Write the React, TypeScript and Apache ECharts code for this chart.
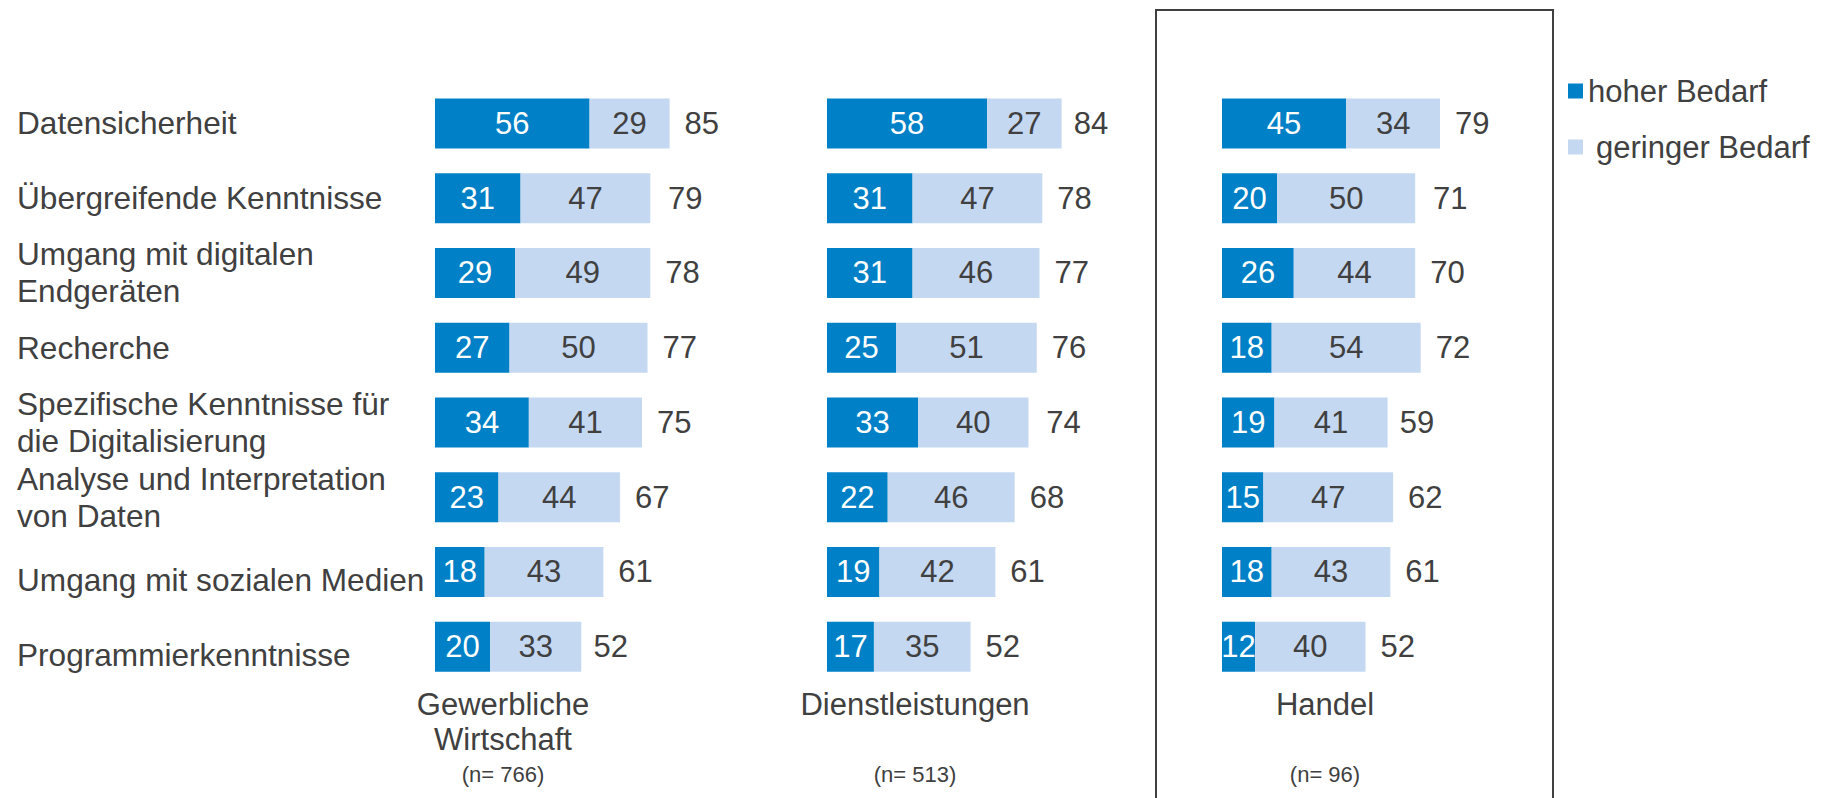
import React, { useEffect, useRef } from "react";
import * as echarts from "echarts";

const categories = [
  "Datensicherheit",
  "Übergreifende Kenntnisse",
  "Umgang mit digitalen\nEndgeräten",
  "Recherche",
  "Spezifische Kenntnisse für\ndie Digitalisierung",
  "Analyse und Interpretation\nvon Daten",
  "Umgang mit sozialen Medien",
  "Programmierkenntnisse",
];

const panelTitles = ["Gewerbliche\nWirtschaft", "Dienstleistungen", "Handel"];
const panelN = ["(n= 766)", "(n= 513)", "(n= 96)"];

const hoherGewerbe = [56, 31, 29, 27, 34, 23, 18, 20];
const geringerGewerbe = [29, 47, 49, 50, 41, 44, 43, 33];
const gesamtGewerbe = [85, 79, 78, 77, 75, 67, 61, 52];

const hoherDienst = [58, 31, 31, 25, 33, 22, 19, 17];
const geringerDienst = [27, 47, 46, 51, 40, 46, 42, 35];
const gesamtDienst = [84, 78, 77, 76, 74, 68, 61, 52];

const hoherHandel = [45, 20, 26, 18, 19, 15, 18, 12];
const geringerHandel = [34, 50, 44, 54, 41, 47, 43, 40];
const gesamtHandel = [79, 71, 70, 72, 59, 62, 61, 52];

const hoher = [hoherGewerbe, hoherDienst, hoherHandel];
const geringer = [geringerGewerbe, geringerDienst, geringerHandel];
const gesamt = [gesamtGewerbe, gesamtDienst, gesamtHandel];

const DARK = "#0080C6";
const LIGHT = "#C5D8F1";
const TEXT = "#404040";
const FONT = "'Liberation Sans', Arial, sans-serif";

export default function App() {
  const ref = useRef<HTMLDivElement>(null);

  useEffect(() => {
    if (!ref.current) return;
    const chart = echarts.init(ref.current, undefined, { renderer: "svg" });

    const gridLefts = [435, 827, 1222];
    const titleX = [503, 915, 1325];
    // downward offset of the two lowest row labels in the original layout
    const labelShift = [0, 0, 0, 0, 0, 0, 8, 8];

    const base = { fontSize: 31.6, lineHeight: 37, color: TEXT, fontFamily: FONT };
    const rich: any = { b: { ...base } };
    labelShift.forEach((s, k) => {
      rich["p" + k] = { ...base, padding: [s * 2, 0, 0, 0] };
    });

    const grids = gridLefts.map((l) => ({ left: l, top: 86, width: 276, height: 598 }));
    const xAxes = gridLefts.map((_, i) => ({
      type: "value",
      gridIndex: i,
      min: 0,
      max: 100,
      show: false,
    }));
    const yAxes = gridLefts.map((l, i) => ({
      type: "category",
      gridIndex: i,
      data: categories,
      inverse: true,
      axisLine: { show: false },
      axisTick: { show: false },
      axisLabel: {
        show: i === 0,
        margin: l - 17,
        align: "left",
        verticalAlign: "middle",
        ...base,
        rich,
        formatter: (value: string, index: number) =>
          value.indexOf("\n") >= 0
            ? value
                .split("\n")
                .map((ln) => `{b|${ln}}`)
                .join("\n")
            : `{p${index}|${value}}`,
      },
    }));

    const series: any[] = [];
    for (let i = 0; i < 3; i++) {
      series.push({
        type: "bar",
        name: "hoher Bedarf",
        xAxisIndex: i,
        yAxisIndex: i,
        stack: "s" + i,
        barWidth: 50,
        barGap: "-100%",
        data: hoher[i],
        itemStyle: { color: DARK },
        label: { show: true, position: "inside", color: "#ffffff", fontSize: 31, fontFamily: FONT },
      });
      series.push({
        type: "bar",
        name: "geringer Bedarf",
        xAxisIndex: i,
        yAxisIndex: i,
        stack: "s" + i,
        barWidth: 50,
        barGap: "-100%",
        data: geringer[i],
        itemStyle: { color: LIGHT },
        label: { show: true, position: "inside", color: TEXT, fontSize: 31, fontFamily: FONT },
      });
      series.push({
        type: "bar",
        name: "Gesamt",
        xAxisIndex: i,
        yAxisIndex: i,
        barWidth: 50,
        barGap: "-100%",
        silent: true,
        z: 1,
        data: gesamt[i],
        itemStyle: { color: "rgba(0,0,0,0)" },
        label: { show: true, position: "right", distance: 15, color: TEXT, fontSize: 31, fontFamily: FONT },
      });
    }

    const graphic: any[] = [
      {
        type: "rect",
        shape: { x: 1156, y: 10, width: 397, height: 800 },
        style: { fill: "none", stroke: TEXT, lineWidth: 2 },
        silent: true,
      },
    ];
    for (let i = 0; i < 3; i++) {
      graphic.push({
        type: "text",
        x: titleX[i],
        y: 687,
        style: {
          text: panelTitles[i],
          fill: TEXT,
          font: `31px ${FONT}`,
          lineHeight: 35,
          textAlign: "center",
          textVerticalAlign: "top",
        },
      });
      graphic.push({
        type: "text",
        x: titleX[i],
        y: 774,
        style: {
          text: panelN[i],
          fill: TEXT,
          font: `22px ${FONT}`,
          textAlign: "center",
          textVerticalAlign: "middle",
        },
      });
    }

    chart.setOption({
      animation: false,
      textStyle: { fontFamily: FONT },
      grid: grids,
      xAxis: xAxes,
      yAxis: yAxes,
      series,
      graphic,
      legend: {
        data: [
          { name: "hoher Bedarf" },
          { name: "geringer Bedarf", textStyle: { padding: [0, 0, 0, 8] } },
        ],
        orient: "vertical",
        left: 1563,
        top: 70,
        itemWidth: 15,
        itemHeight: 15,
        itemGap: 24,
        icon: "rect",
        selectedMode: false,
        textStyle: { fontSize: 31, color: TEXT, lineHeight: 32, fontFamily: FONT },
      },
    });

    return () => chart.dispose();
  }, []);

  return (
    <div
      ref={ref}
      style={{ position: "fixed", left: 0, top: 0, width: 1829, height: 798, background: "#ffffff" }}
    />
  );
}
